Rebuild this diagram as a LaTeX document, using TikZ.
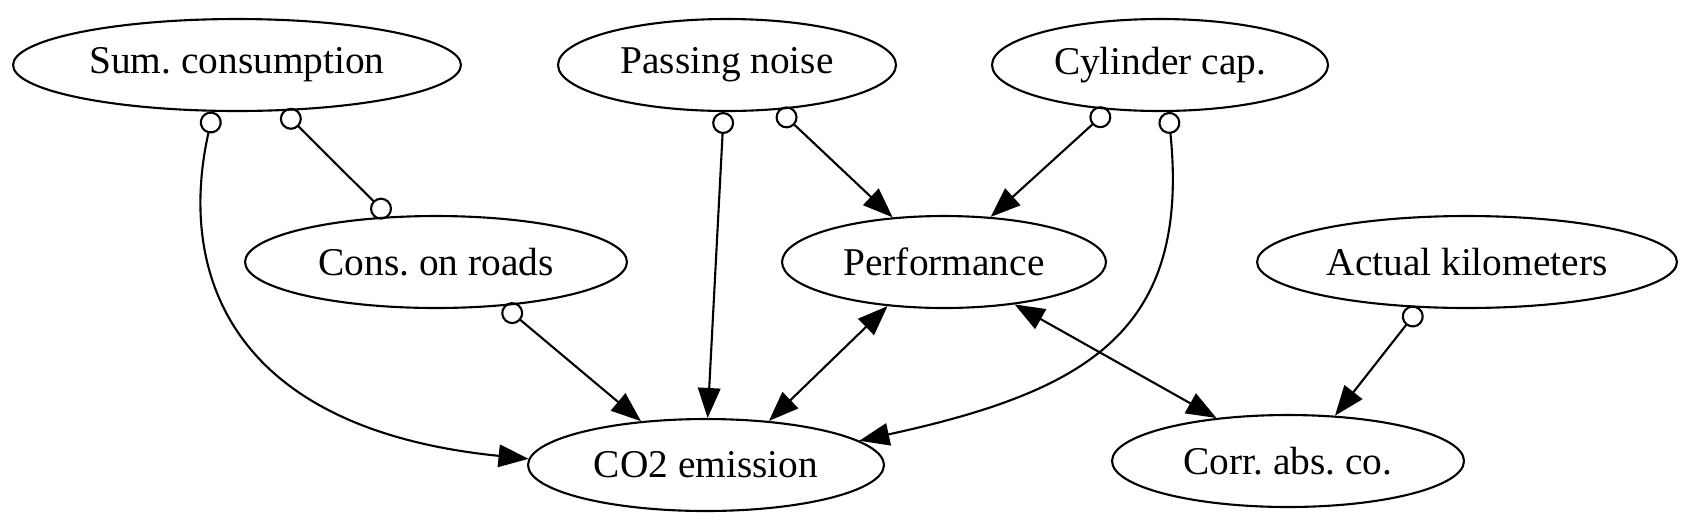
\documentclass[tikz,border=0pt]{standalone}
\usepackage{fontspec}
\setmainfont{Liberation Serif}
\usetikzlibrary{arrows.meta}
\usetikzlibrary{shapes.geometric}

\tikzset{
  var/.style = {ellipse, draw, line width=1.2pt, inner sep=0pt, minimum height=1.84cm, font=\fontsize{22.4}{26}\selectfont},
  dotto/.style = {{Circle[open,length=0.44cm,width=0.44cm]}-{Triangle[length=0.6cm,width=0.45cm]}},
  dotdot/.style = {{Circle[open,length=0.44cm,width=0.44cm]}-{Circle[open,length=0.44cm,width=0.44cm]}},
  both/.style = {{Triangle[length=0.6cm,width=0.45cm]}-{Triangle[length=0.6cm,width=0.45cm]}}
}

\begin{document}
\frenchspacing
\begin{tikzpicture}[x=0.02cm, y=-0.02cm, line width=1.2pt]
            \useasboundingbox (0,0) rectangle (1689,522);
            \node[var, minimum width=8.96cm] (sum) at (237,65) {Sum. consumption};
            \node[var, minimum width=6.76cm] (noise) at (727,65) {Passing noise};
            \node[var, minimum width=6.72cm] (cyl) at (1160,65) {Cylinder cap.};
            \node[var, minimum width=7.64cm] (cons) at (436,262) {Cons. on roads};
            \node[var, minimum width=6.48cm] (perf) at (944,262) {Performance};
            \node[var, minimum width=8.4cm] (km) at (1467,262) {Actual kilometers};
            \node[var, minimum width=7.12cm] (co2) at (706,465) {CO2 emission};
            \node[var, minimum width=7.04cm] (corr) at (1288,461) {Corr. abs. co.};
            \draw[dotto] (sum.243) .. controls +(-36,160) and +(-300,-30) .. (co2.178);
            \draw[dotdot] (sum.315) to (cons.136);
            \draw[dotto] (noise.266) to (co2.88);
            \draw[dotto] (noise.319) to (perf.139);
            \draw[dotto] (cyl.221) to (perf.44);
            \draw[dotto] (cyl.280) .. controls +(22,218) and +(230,-50) .. (co2.9);
            \draw[dotto] (cons.327) to (co2.146);
            \draw[both] (perf.218) to (co2.35);
            \draw[both] (perf.329) to (corr.149);
            \draw[dotto] (km.224) to (corr.44);
        \end{tikzpicture}
\end{document}
